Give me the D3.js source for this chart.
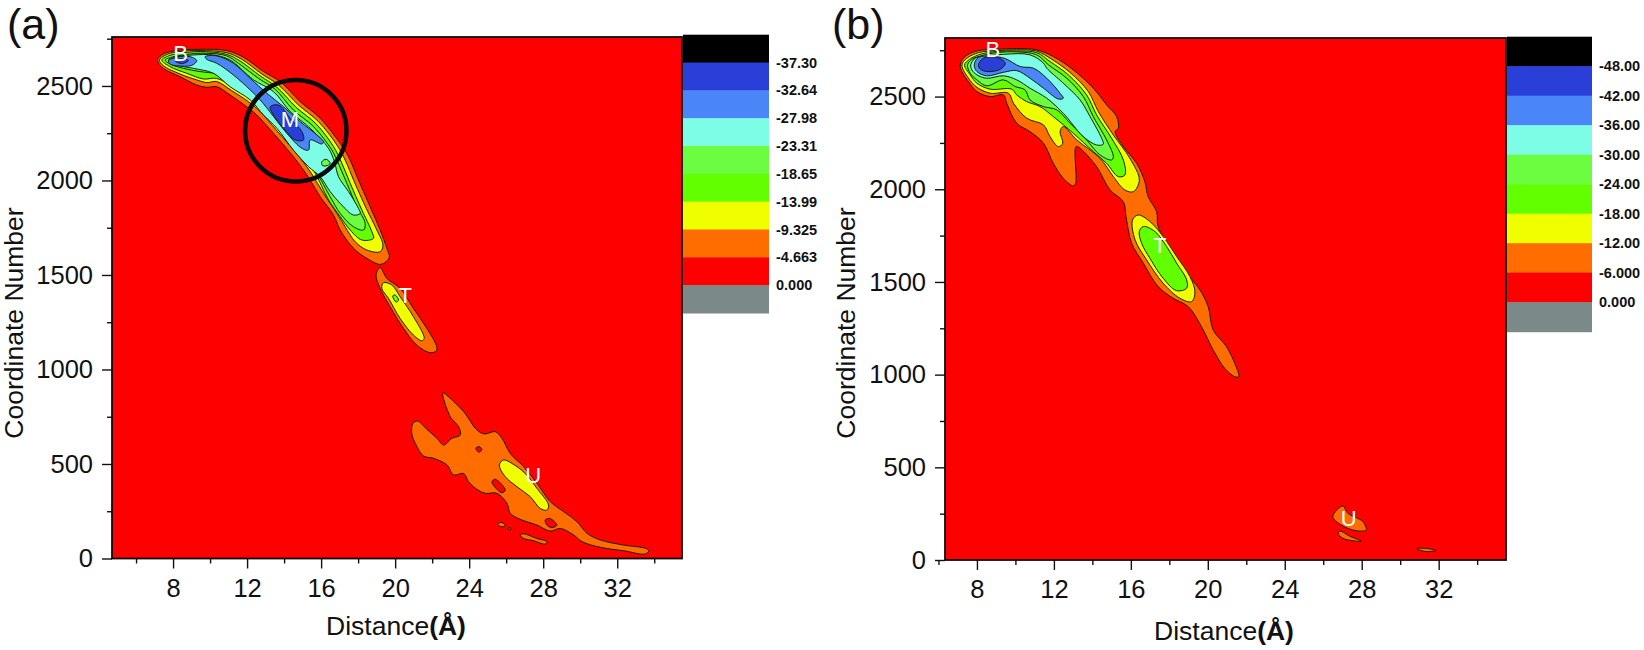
<!DOCTYPE html>
<html><head><meta charset="utf-8">
<script src="https://cdn.jsdelivr.net/npm/d3@7"></script>
<style>html,body{margin:0;padding:0;background:#fff}svg{display:block;font-family:"Liberation Sans",Arial,sans-serif}</style>
</head><body><svg id="c" width="1644" height="650"></svg>
<script>
// colour bands, deepest first
const bandColors=["#000000","#2a3ed8","#4a86f8","#7dfde6","#6cfc40","#62ff00","#f0ff00","#ff6c00","#ff0000","#7b8a88"];
const levelsA=["-37.30","-32.64","-27.98","-23.31","-18.65","-13.99","-9.325","-4.663","0.000"];
const levelsB=["-48.00","-42.00","-36.00","-30.00","-24.00","-18.00","-12.00","-6.000","0.000"];
const xMajor=[8,12,16,20,24,28,32];
const xMinor=[6,10,14,18,22,26,30,34];
const yMajor=[0,500,1000,1500,2000,2500];
const yMinor=[250,750,1250,1750,2250,2750];

// Panel (a) contour outlines: [distance, coordinate number]
const aOrange=[[7.16,2637],[7.48,2669],[8.2,2687],[9.46,2694],[10.9,2687],[11.8,2652],[12.89,2576],[13.79,2523],[14.87,2417],[15.95,2329],[17.03,2196],[17.48,2126],[18.02,2002],[18.65,1861],[19.19,1738],[19.55,1641],[19.68,1593],[19.23,1556],[18.47,1588],[17.75,1641],[17.03,1738],[16.67,1817],[15.95,1914],[15.23,2029],[14.5,2126],[13.43,2249],[12.52,2346],[11.98,2390],[11.08,2452],[10.36,2496],[9.82,2493],[9.28,2505],[8.38,2549],[7.48,2593]];
const aYellow=[[7.26,2637],[7.57,2662],[8.2,2680],[9.46,2687],[10.9,2676],[11.71,2641],[12.8,2563],[13.7,2505],[14.78,2399],[15.86,2311],[16.85,2188],[17.3,2108],[17.79,1994],[18.44,1852],[19.01,1738],[19.34,1658],[19.19,1623],[18.47,1632],[17.84,1676],[17.3,1755],[16.85,1826],[16.13,1932],[15.41,2047],[14.69,2140],[13.61,2263],[12.71,2364],[12.07,2417],[11.17,2475],[10.36,2523],[9.82,2518],[9.28,2532],[8.38,2563],[7.48,2607]];
const aGreen=[[7.39,2637],[7.75,2659],[8.38,2673],[9.46,2682],[10.9,2667],[11.62,2632],[12.71,2553],[13.61,2493],[14.65,2387],[15.73,2299],[16.67,2179],[17.12,2091],[17.57,1985],[18.2,1844],[18.74,1729],[18.83,1694],[18.2,1685],[17.57,1738],[17.03,1808],[16.4,1897],[15.59,2055],[14.87,2147],[13.79,2276],[12.89,2373],[12.17,2435],[11.26,2493],[10.36,2540],[9.64,2537],[8.74,2567],[7.84,2602]];
const aLight=[[7.57,2637],[7.93,2652],[8.74,2667],[9.82,2673],[10.9,2659],[11.53,2620],[12.62,2540],[13.52,2482],[14.5,2373],[15.59,2285],[16.58,2161],[16.85,2108],[17.39,1985],[17.93,1861],[18.38,1773],[18.29,1738],[17.75,1755],[17.03,1826],[16.49,1914],[15.77,2038],[15.05,2126],[13.97,2267],[13.07,2364],[12.35,2443],[11.26,2514],[10.36,2563],[9.46,2576],[8.56,2593],[7.84,2616]];
const aCyan=[[7.75,2637],[8.2,2655],[9.1,2664],[10.18,2664],[11.08,2637],[12.35,2532],[13.43,2470],[14.33,2364],[15.41,2276],[16.4,2170],[16.72,2099],[16.94,2020],[17.48,1941],[18.02,1852],[18.11,1826],[17.75,1817],[17.03,1879],[16.49,1941],[15.95,2020],[15.32,2073],[14.5,2161],[13.61,2276],[12.89,2346],[12.17,2426],[11.08,2496],[10.18,2567],[9.1,2593],[8.2,2611]];
const aIsland=[[16.04,2099],[16.27,2112],[16.49,2091],[16.27,2077],[16.06,2080]];
const aBlueM=[[9.73,2655],[10.36,2659],[11.26,2620],[12.17,2540],[13.07,2461],[13.97,2390],[14.87,2311],[15.77,2241],[16.13,2205],[16.04,2193],[15.41,2214],[15.32,2161],[14.96,2170],[14.15,2249],[13.43,2338],[12.71,2426],[12.17,2479],[11.26,2558],[10.36,2620],[9.82,2641]];
const aBlueB=[[7.75,2632],[8.2,2652],[8.92,2655],[9.28,2634],[9.01,2609],[8.2,2607],[7.84,2616]];
const aDeepB=[[8.11,2632],[8.47,2646],[8.83,2634],[8.47,2618]];
const aDeepM=[[13.25,2390],[13.7,2399],[14.33,2329],[14.96,2258],[15.05,2214],[14.6,2214],[13.97,2276],[13.43,2346]];
const aTOrange=[[19.19,1539],[19.55,1482],[20.27,1429],[20.99,1323],[21.71,1218],[22.25,1120],[22.22,1098],[21.89,1089],[21.17,1129],[20.45,1218],[19.73,1332],[19.19,1429],[18.97,1500]];
const aTYellow=[[19.37,1459],[19.82,1447],[20.27,1385],[20.99,1279],[21.57,1165],[21.44,1152],[20.99,1182],[20.27,1270],[19.64,1376],[19.28,1429]];
const aTGreen=[[19.87,1389],[20.0,1394],[20.18,1367],[20.05,1357]];
const aUOrange=[[22.58,877],[22.98,847],[23.7,777],[24.42,680],[24.82,659],[25.41,671],[25.77,636],[26.22,556],[26.94,486],[27.66,398],[28.38,301],[29.1,248],[29.82,195],[30.37,133],[31.09,98],[32.35,71],[33.52,54],[33.7,41],[33.52,24],[32.35,41],[31.09,59],[30.1,89],[29.65,124],[28.92,159],[28.38,145],[27.66,177],[26.76,207],[26.22,239],[26.04,292],[25.5,345],[24.87,345],[24.42,366],[23.97,406],[23.7,450],[23.16,442],[22.8,495],[22.08,530],[21.54,542],[21.09,609],[20.9,662],[20.96,715],[21.21,727],[21.72,683],[22.26,636],[22.62,600],[23.07,636],[23.52,653],[23.43,697],[22.98,750]];
const aUHole1=[[24.36,583],[24.54,592],[24.69,574],[24.51,563]];
const aUHole2=[[25.23,406],[25.41,419],[25.95,362],[25.77,348],[25.45,371]];
const aUHole3=[[28.11,204],[28.38,211],[28.74,177],[28.47,163],[28.2,177]];
const aUYellow=[[25.63,495],[25.86,521],[26.31,503],[27.03,450],[27.66,371],[28.29,283],[28.2,256],[27.84,265],[27.3,327],[26.58,380],[25.95,433]];
const aUSpot=[[25.55,182],[25.77,191],[25.95,173],[25.72,168]];
const aUDot=[[26.09,159],[26.18,163],[26.27,156],[26.18,154]];
const aUStrip=[[26.76,124],[26.94,131],[27.66,106],[28.2,89],[28.11,76],[27.48,94],[26.94,106]];

// Panel (b) contour outlines
const bOrange=[[7.13,2671],[7.39,2716],[7.995,2746],[9.03,2755],[10.07,2759],[11.11,2752],[11.97,2716],[13.01,2644],[14.05,2545],[14.74,2455],[15.26,2392],[15.35,2329],[15.18,2311],[15.61,2230],[16.3,2140],[16.73,2041],[16.9,1960],[17.34,1879],[17.42,1799],[18.2,1655],[18.98,1538],[19.59,1457],[20.02,1367],[20.28,1241],[20.97,1151],[21.4,1061],[21.61,989],[21.4,989],[20.88,1034],[20.28,1133],[19.67,1259],[18.98,1367],[18.2,1412],[17.42,1475],[16.65,1601],[16.04,1709],[15.75,1852],[15.61,1933],[14.92,1996],[14.22,2122],[13.36,2221],[13.15,2230],[13.13,2032],[13.01,2018],[12.49,2059],[11.97,2140],[11.46,2248],[10.76,2311],[10.07,2356],[9.55,2464],[9.38,2509],[8.69,2500],[8.0,2527],[7.56,2581],[7.22,2635]];
const bYellow=[[7.22,2671],[7.48,2707],[8.08,2737],[9.03,2748],[10.07,2752],[11.11,2745],[11.89,2701],[12.84,2630],[13.79,2527],[14.31,2419],[15.09,2293],[15.95,2167],[16.44,2050],[16.13,1987],[15.69,1996],[15.09,2068],[14.4,2167],[13.19,2266],[12.49,2338],[12.32,2311],[12.46,2248],[12.23,2230],[11.8,2284],[11.46,2347],[10.59,2383],[9.9,2464],[9.64,2518],[8.69,2518],[8.0,2550],[7.56,2599]];
const bGreen=[[7.36,2671],[7.62,2701],[8.17,2728],[9.03,2743],[10.07,2746],[11.11,2737],[11.8,2689],[12.75,2617],[13.7,2509],[14.22,2401],[15.0,2275],[15.61,2158],[15.69,2077],[15.35,2068],[14.74,2140],[14.05,2203],[13.01,2302],[11.97,2392],[11.28,2446],[10.59,2473],[10.07,2509],[9.81,2540],[8.69,2540],[8.0,2572],[7.65,2617]];
const bLight=[[7.51,2671],[7.74,2701],[8.26,2721],[9.03,2737],[10.07,2741],[11.11,2725],[11.72,2671],[12.67,2599],[13.53,2500],[14.05,2392],[14.74,2266],[15.09,2176],[15.0,2158],[14.4,2185],[13.7,2266],[12.84,2356],[12.15,2428],[11.46,2446],[10.76,2482],[10.5,2536],[9.99,2554],[9.38,2590],[8.51,2558],[8.0,2590],[7.65,2626]];
const bCyan=[[7.68,2671],[7.91,2707],[8.34,2716],[9.38,2728],[10.76,2725],[11.46,2680],[11.63,2653],[12.49,2572],[13.36,2482],[13.88,2392],[14.48,2275],[14.57,2243],[14.22,2239],[13.53,2284],[12.49,2410],[11.63,2491],[10.76,2545],[10.07,2590],[9.38,2612],[8.51,2599],[8.0,2617],[7.74,2644]];
const bBlue=[[7.86,2671],[8.08,2712],[8.86,2716],[9.47,2705],[10.25,2662],[10.94,2653],[11.63,2599],[12.32,2518],[12.49,2491],[12.23,2487],[11.46,2545],[10.76,2599],[10.07,2640],[9.38,2631],[8.51,2612],[8.0,2635]];
const bDeep=[[8.08,2671],[8.34,2707],[9.03,2712],[9.47,2680],[9.21,2647],[8.51,2635],[8.17,2649]];
const bTYellow=[[16.09,1835],[16.38,1861],[16.99,1826],[17.68,1745],[18.38,1637],[19.07,1529],[19.33,1448],[19.16,1394],[18.55,1412],[17.68,1493],[16.82,1619],[16.22,1727]];
const bTGreen=[[16.44,1772],[16.65,1799],[17.25,1772],[17.86,1691],[18.38,1601],[18.9,1511],[18.9,1466],[18.38,1453],[17.68,1520],[16.99,1628],[16.56,1709]];
const bUOrange=[[26.5,234],[27.02,291],[27.28,252],[28.06,207],[28.23,162],[27.71,158],[26.93,189]];
const bUStrip=[[26.78,144],[26.88,156],[27.37,129],[27.97,102],[27.54,104],[27.02,117]];
const bUTail=[[30.86,61],[31.26,63],[31.86,52],[31.43,45],[31.0,54]];

// [outline, colour band index], painted in this order
const contoursA=[[aOrange,7],[aYellow,6],[aGreen,5],[aLight,4],[aCyan,3],[aIsland,4],[aBlueM,2],[aBlueB,2],[aDeepB,1],[aDeepM,1],
 [aTOrange,7],[aTYellow,6],[aTGreen,5],[aUOrange,7],[aUHole1,8],[aUHole2,8],[aUHole3,8],[aUYellow,6],[aUSpot,7],[aUDot,7],[aUStrip,7]];
const contoursB=[[bOrange,7],[bYellow,6],[bGreen,5],[bLight,4],[bCyan,3],[bBlue,2],[bDeep,1],[bTYellow,6],[bTGreen,5],[bUOrange,7],[bUStrip,7],[bUTail,7]];
const statesA=[["B",8.4,2670],["M",14.32,2320],["T",20.54,1389],["U",27.46,437]];
const statesB=[["B",8.83,2752],["T",17.5,1694],["U",27.33,225]];
const ringA=[14.63,2263,2.74];

const svg=d3.select("#c");
function panel(o){
  const x=d3.scaleLinear().domain(o.xd).range([o.l,o.r]);
  const y=d3.scaleLinear().domain(o.yd).range([o.b,o.t]);
  const g=svg.append("g");
  g.append("rect").attr("x",o.l).attr("y",o.t).attr("width",o.r-o.l).attr("height",o.b-o.t).attr("fill",bandColors[8]);
  const line=d3.line().x(d=>x(d[0])).y(d=>y(d[1])).curve(d3.curveCatmullRomClosed.alpha(0.5));
  g.selectAll("path.c").data(o.contours).join("path").attr("class","c")
    .attr("d",d=>line(d[0])).attr("fill",d=>bandColors[d[1]]).attr("stroke","#14200c").attr("stroke-width",1);
  // axes
  const ax=(gen,tr)=>{const a=g.append("g").attr("transform",tr).call(gen);
    a.selectAll("path").remove();a.selectAll("line").attr("stroke","#111").attr("stroke-width",1.4);
    a.selectAll("text").attr("font-size",25.5).attr("fill","#111").attr("font-family","'Liberation Sans',Arial,sans-serif");return a;};
  ax(d3.axisBottom(x).tickValues(xMajor).tickSize(10).tickPadding(10).tickFormat(d3.format("d")),`translate(0,${o.b})`);
  ax(d3.axisBottom(x).tickValues(xMinor).tickSize(5).tickFormat(""),`translate(0,${o.b})`);
  ax(d3.axisLeft(y).tickValues(yMajor).tickSize(10).tickPadding(9).tickFormat(d3.format("d")),`translate(${o.l},0)`);
  ax(d3.axisLeft(y).tickValues(yMinor).tickSize(5).tickFormat(""),`translate(${o.l},0)`);
  g.append("rect").attr("x",o.l).attr("y",o.t).attr("width",o.r-o.l).attr("height",o.b-o.t).attr("fill","none").attr("stroke","#0c0c0c").attr("stroke-width",1.8);
  // colour bar
  const by=d3.scaleBand().domain(d3.range(bandColors.length)).range([o.barT,o.barB]);
  g.selectAll("rect.b").data(bandColors).join("rect").attr("class","b").attr("x",o.r+1).attr("width",o.barW)
    .attr("y",(d,i)=>by(i)).attr("height",by.bandwidth()+0.5).attr("fill",d=>d);
  g.selectAll("text.l").data(o.levels).join("text").attr("class","l").attr("x",o.r+o.barW+8)
    .attr("y",(d,i)=>by(i)+by.bandwidth()+5).attr("font-size",14.5).attr("font-weight","bold").attr("fill","#111").text(d=>d);
  // state labels
  g.selectAll("text.s").data(o.states).join("text").attr("class","s").attr("x",d=>x(d[1])).attr("y",d=>y(d[2]))
    .attr("text-anchor","middle").attr("dominant-baseline","central").attr("font-size",22).attr("fill","#fff").text(d=>d[0]);
  // titles
  const t=g.append("text").attr("x",o.xtX).attr("y",o.xtY).attr("text-anchor","middle").attr("font-size",26.5).attr("fill","#111");
  t.append("tspan").text("Distance");t.append("tspan").attr("font-weight","bold").text("(Å)");
  g.append("text").attr("transform",`translate(${o.ytX},${o.ytY}) rotate(-90)`).attr("text-anchor","middle").attr("font-size",26.5).attr("fill","#111").text("Coordinate Number");
  g.append("text").attr("x",o.tagX).attr("y",39).attr("font-size",43).attr("fill","#111").text(o.tag);
  return {x,y,g};
}
const pa=panel({tag:"(a)",tagX:7,xd:[4.7,35.5],yd:[0,2759],l:112,r:682,t:37,b:558.5,contours:contoursA,states:statesA,levels:levelsA,
  barT:34.7,barB:313,barW:86,xtX:396,xtY:635,ytX:23,ytY:323});
panel({tag:"(b)",tagX:832,xd:[6.34,35.5],yd:[0,2816],l:945,r:1506,t:38,b:560,contours:contoursB,states:statesB,levels:levelsB,
  barT:36.7,barB:331.7,barW:85,xtX:1224,xtY:640,ytX:855,ytY:323});
pa.g.append("circle").attr("cx",pa.x(ringA[0])).attr("cy",pa.y(ringA[1])).attr("r",pa.x(ringA[0]+ringA[2])-pa.x(ringA[0]))
  .attr("fill","none").attr("stroke","#0a0a0a").attr("stroke-width",4.5);
</script></body></html>
